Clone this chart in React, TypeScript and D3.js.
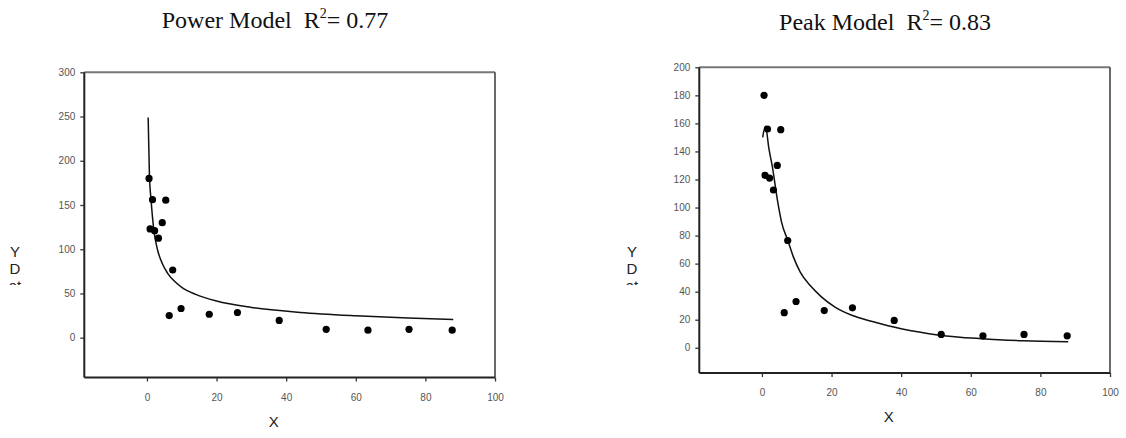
import { useEffect, useRef } from 'react';
import * as d3 from 'd3';

// observed data (same in both panels)
const obsX = [0.6, 0.9, 1.6, 2.2, 3.3, 4.4, 5.4, 6.4, 7.4, 9.8, 17.9, 26, 38, 51.5, 63.5, 75.3, 87.7];
const obsY = [180, 123, 156, 121, 112.5, 130, 155.5, 25, 76.5, 33, 26.5, 28.5, 19.5, 9.5, 8.5, 9.5, 8.5];

// fitted curves
const powerCurveX = [0.35, 0.7, 1.2, 2, 3, 4.5, 6, 8, 10, 14, 20, 30, 44, 60, 75, 88];
const powerCurveY = [249, 185, 155, 121, 100, 83, 72.5, 63.5, 57, 49, 41.4, 34.2, 28.6, 24.8, 22.3, 20.7];
const peakCurveX = [0.2, 1.0, 2, 3, 4.4, 5.6, 7.5, 9, 11, 14, 17, 21, 26, 32, 40, 51, 63, 75, 88];
const peakCurveY = [150, 158, 142, 129, 106, 90, 76, 65, 54, 44, 36.5, 29, 23, 18.5, 13.5, 9, 6.5, 5, 4.2];

const xTicks = [0, 20, 40, 60, 80, 100];
const powerYTicks = [0, 50, 100, 150, 200, 250, 300];
const peakYTicks = [0, 20, 40, 60, 80, 100, 120, 140, 160, 180, 200];

type PanelProps = {
  g: d3.Selection<SVGGElement, unknown, null, undefined>;
  id: string;
  box: { left: number; right: number; top: number; bottom: number };
  yDomain: [number, number];
  yTicks: number[];
  curveX: number[];
  curveY: number[];
  title: string;
  r2: string;
  titleX: number;
  titleY: number;
  yLabelX: number;
  xLabelY: number;
};

function drawPanel(p: PanelProps) {
  const { g, box } = p;
  const x = d3.scaleLinear().domain([-18, 100]).range([box.left, box.right]);
  const y = d3.scaleLinear().domain(p.yDomain).range([box.bottom, box.top]);

  // title
  const t = g.append('text')
    .attr('x', p.titleX)
    .attr('y', p.titleY)
    .attr('text-anchor', 'middle')
    .attr('font-family', '"Liberation Serif", "Times New Roman", serif')
    .attr('font-size', 24)
    .attr('fill', '#111')
    .style('white-space', 'pre');
  t.append('tspan').text(p.title + '  R');
  t.append('tspan').attr('font-size', 14).attr('dy', -10).text('2');
  t.append('tspan').attr('dy', 10).text('= ' + p.r2);

  // frame: top/right grey, left/bottom dark
  g.append('line').attr('x1', box.left).attr('x2', box.right).attr('y1', box.top).attr('y2', box.top)
    .attr('stroke', '#777').attr('stroke-width', 2);
  g.append('line').attr('x1', box.right).attr('x2', box.right).attr('y1', box.top).attr('y2', box.bottom)
    .attr('stroke', '#444').attr('stroke-width', 1.6);

  const yAxis = g.append('g')
    .attr('transform', `translate(${box.left},0)`)
    .call(d3.axisLeft(y).tickValues(p.yTicks).tickSize(4).tickPadding(5).tickFormat(d3.format('d')));
  const xAxis = g.append('g')
    .attr('transform', `translate(0,${box.bottom})`)
    .call(d3.axisBottom(x).tickValues(xTicks).tickSize(4).tickPadding(12).tickFormat(d3.format('d')));

  [yAxis, xAxis].forEach(a => {
    a.select('.domain').attr('stroke', '#222').attr('stroke-width', 2);
    a.selectAll('.tick line').attr('stroke', '#333').attr('stroke-width', 1.3);
    a.selectAll('.tick text')
      .attr('font-family', '"Liberation Sans", Arial, sans-serif')
      .attr('font-size', 10)
      .attr('fill', '#555');
  });
  // axis domain without end caps
  yAxis.select('.domain').attr('d', `M0,${box.top}V${box.bottom}`);
  xAxis.select('.domain').attr('d', `M${box.left},0H${box.right}`);

  // axis titles
  g.append('text')
    .attr('x', x(36.4))
    .attr('y', p.xLabelY)
    .attr('text-anchor', 'middle')
    .attr('font-family', '"Liberation Sans", Arial, sans-serif')
    .attr('font-size', 15)
    .attr('fill', '#222')
    .text('X');

  const clipId = `clip-${p.id}`;
  g.append('clipPath').attr('id', clipId)
    .append('rect').attr('x', p.yLabelX - 15).attr('y', 230).attr('width', 30).attr('height', 55);
  const yl = g.append('g').attr('clip-path', `url(#${clipId})`)
    .attr('font-family', '"Liberation Sans", Arial, sans-serif')
    .attr('font-size', 15)
    .attr('fill', '#222')
    .attr('text-anchor', 'middle');
  ['Y', 'D', 'at'].forEach((s, i) => {
    yl.append('text').attr('x', p.yLabelX).attr('y', 257 + i * 17).text(s);
  });

  // fitted curve
  const pts: [number, number][] = p.curveX.map((v, i) => [v, p.curveY[i]]);
  const line = d3.line<[number, number]>()
    .x(d => x(d[0]))
    .y(d => y(d[1]))
    .curve(d3.curveMonotoneX);
  g.append('path')
    .attr('d', line(pts))
    .attr('fill', 'none')
    .attr('stroke', '#111')
    .attr('stroke-width', 1.5);

  // observed points
  g.selectAll('circle.obs')
    .data(obsX.map((v, i) => [v, obsY[i]]))
    .join('circle')
    .attr('class', 'obs')
    .attr('cx', d => x(d[0]))
    .attr('cy', d => y(d[1]))
    .attr('r', 3.6)
    .attr('fill', '#000');
}

export default function App() {
  const ref = useRef<SVGSVGElement>(null);

  useEffect(() => {
    const svg = d3.select(ref.current);
    svg.selectAll('*').remove();

    drawPanel({
      g: svg.append('g'),
      id: 'power',
      box: { left: 84.3, right: 495, top: 72.3, bottom: 377.5 },
      yDomain: [-45, 300],
      yTicks: powerYTicks,
      curveX: powerCurveX,
      curveY: powerCurveY,
      title: 'Power Model',
      r2: '0.77',
      titleX: 275,
      titleY: 28,
      yLabelX: 15,
      xLabelY: 427,
    });

    drawPanel({
      g: svg.append('g'),
      id: 'peak',
      box: { left: 699.3, right: 1110, top: 67.3, bottom: 373 },
      yDomain: [-18, 200],
      yTicks: peakYTicks,
      curveX: peakCurveX,
      curveY: peakCurveY,
      title: 'Peak Model',
      r2: '0.83',
      titleX: 885,
      titleY: 30,
      yLabelX: 632,
      xLabelY: 422,
    });
  }, []);

  return (
    <svg
      ref={ref}
      width={1126}
      height={438}
      style={{ position: 'absolute', left: 0, top: 0, background: '#fff' }}
    />
  );
}
